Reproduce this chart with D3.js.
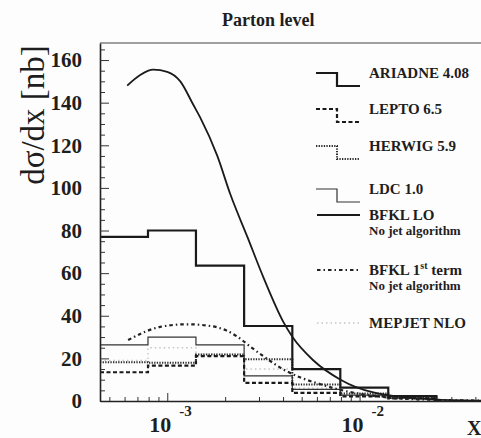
<!DOCTYPE html>
<html>
<head>
<meta charset="utf-8">
<script src="https://cdn.jsdelivr.net/npm/d3@7"></script>
<style>
  body { margin: 0; background: #fdfdfd; }
  svg { display: block; }
  svg text { font-family: 'Liberation Serif', 'Times New Roman', Times, serif; fill: #1e1e1e; }
</style>
</head>
<body>
<script>
// histogram bin edges in x (4 bins per decade)
const binEdges = [4.47e-4, 7.94e-4, 1.41e-3, 2.51e-3, 4.47e-3, 7.94e-3, 1.41e-2, 2.51e-2]
const ariadne = [77, 80, 63.5, 35.2, 15, 6.3, 2.3]
const lepto = [13.5, 16.6, 21.1, 8.5, 3.8, 2.2, 1.2]
const herwig = [18.2, 18, 21.8, 19.6, 7.8, 3.5, 1.6]
const ldc = [26.3, 30, 26.3, 11.8, 5.5, 2.8, 1.3]
const mepjet = [19, 25, 22, 15, 6, 2.5, 1]

// BFKL curves, x and dsigma/dx
const bfklLoX = [6.19e-4, 7.23e-4, 8.46e-4, 1.0e-3, 1.169e-3, 1.366e-3, 1.485e-3, 1.821e-3, 2.128e-3, 2.61e-3, 3.162e-3, 4.02e-3, 4.48e-3, 5.76e-3, 7.96e-3, 1.18e-2, 2.34e-2, 4.4e-2]
const bfklLoY = [148, 153, 155.5, 154.5, 150, 139, 133, 115, 97, 77, 58, 37, 30, 19, 10, 4, 0.8, 0.2]
const bfkl1X = [6.26e-4, 7.68e-4, 9.19e-4, 1.271e-3, 1.675e-3, 2.005e-3, 2.316e-3, 2.705e-3, 3.162e-3, 4.02e-3, 4.93e-3, 6.04e-3, 7.96e-3, 1.287e-2, 2.34e-2, 4.4e-2]
const bfkl1Y = [28.6, 32.5, 34.8, 36, 35.2, 33.3, 30.2, 25.5, 21, 14.8, 11, 8.3, 5.2, 2, 0.6, 0.2]

const yMajor = [0, 20, 40, 60, 80, 100, 120, 140, 160]
const xMajor = [1e-3, 1e-2]
const xMajorExp = ['-3', '-2']

const legendNames = ['ARIADNE 4.08', 'LEPTO 6.5', 'HERWIG 5.9', 'LDC 1.0']

;(function (context) {
  const d3 = context.d3
  const width = 481
  const height = 438
  const left = 100
  const top = 43
  const bottom = 401
  const serif = "'Liberation Serif', 'Times New Roman', Times, serif"

  const x = d3.scaleLog().domain([4.47e-4, 5.0e-2]).range([left, 494])
  const y = d3.scaleLinear().domain([0, 168]).range([bottom, top])

  const svg = d3.select('body')
    .append('svg')
    .attr('width', width)
    .attr('height', height)
    .attr('font-family', serif)

  const styles = {
    ariadne: { stroke: '#1a1a1a', width: 2.2, dash: null },
    lepto: { stroke: '#1a1a1a', width: 2.2, dash: '4,2.5' },
    herwig: { stroke: '#2a2a2a', width: 2, dash: '1.3,1.3' },
    ldc: { stroke: '#333', width: 1.2, dash: null },
    mepjet: { stroke: '#c4c4c4', width: 1.4, dash: '1.5,3' },
    bfklLo: { stroke: '#1a1a1a', width: 1.8, dash: null },
    bfkl1: { stroke: '#222', width: 2.2, dash: '3.5,3,1.5,3' }
  }

  const applyStyle = function (sel, s) {
    sel.attr('fill', 'none')
      .attr('stroke', s.stroke)
      .attr('stroke-width', s.width)
    if (s.dash) sel.attr('stroke-dasharray', s.dash)
    return sel
  }

  // step path built from bin edges and values
  const stepPath = function (values) {
    const edges = binEdges.concat([Math.pow(10, Math.log10(binEdges[binEdges.length - 1]) + 0.25)])
    const pts = []
    values.forEach(function (v, i) {
      pts.push([x(edges[i]), y(v)])
      pts.push([x(edges[i + 1]), y(v)])
    })
    pts.push([x(edges[values.length]), y(0)])
    return d3.line()(pts)
  }

  const plot = svg.append('g')

  const hists = [
    [mepjet, styles.mepjet],
    [ldc, styles.ldc],
    [herwig, styles.herwig],
    [lepto, styles.lepto],
    [ariadne, styles.ariadne]
  ]
  hists.forEach(function (h) {
    applyStyle(plot.append('path').attr('d', stepPath(h[0])), h[1])
  })

  const curve = d3.line()
    .x(function (d) { return x(d[0]) })
    .y(function (d) { return y(d[1]) })
    .curve(d3.curveMonotoneX)

  applyStyle(plot.append('path').attr('d', curve(d3.zip(bfkl1X, bfkl1Y))), styles.bfkl1)
  applyStyle(plot.append('path').attr('d', curve(d3.zip(bfklLoX, bfklLoY))), styles.bfklLo)

  // frame
  svg.append('line')
    .attr('x1', left).attr('x2', width).attr('y1', top).attr('y2', top)
    .attr('stroke', '#444').attr('stroke-width', 1.2)

  // y axis
  const yMinor = d3.range(0, 170, 5).filter(function (v) { return v % 20 !== 0 })
  svg.append('g')
    .attr('transform', `translate(${left},0)`)
    .call(d3.axisLeft(y).tickValues(yMinor).tickSize(-5).tickFormat(''))
    .call(function (g) { g.select('.domain').remove() })
    .selectAll('line').attr('stroke', '#333')

  const yAxis = svg.append('g')
    .attr('transform', `translate(${left},0)`)
    .call(d3.axisLeft(y).tickValues(yMajor).tickSize(-9).tickPadding(18).tickSizeOuter(0))
    .attr('font-family', serif)
  yAxis.select('.domain').attr('stroke', '#222').attr('stroke-width', 1.6)
  yAxis.selectAll('line').attr('stroke', '#333')
  yAxis.selectAll('text')
    .style('font-family', serif)
    .style('font-size', '21px')
    .style('font-weight', 'bold')
    .attr('fill', '#1e1e1e')

  // x axis
  const xMinor = [5e-4, 6e-4, 7e-4, 8e-4, 9e-4, 2e-3, 3e-3, 4e-3, 5e-3, 6e-3, 7e-3, 8e-3, 9e-3, 2e-2, 3e-2, 4e-2]
  svg.append('g')
    .attr('transform', `translate(0,${bottom})`)
    .call(d3.axisBottom(x).tickValues(xMinor).tickSize(-4).tickFormat(''))
    .call(function (g) { g.select('.domain').remove() })
    .selectAll('line').attr('stroke', '#333')

  const xAxis = svg.append('g')
    .attr('transform', `translate(0,${bottom})`)
    .call(d3.axisBottom(x).tickValues(xMajor).tickSize(-8).tickSizeOuter(0).tickFormat(''))
  xAxis.select('.domain').attr('stroke', '#222').attr('stroke-width', 1.6)
  xAxis.selectAll('line').attr('stroke', '#333')

  xMajor.forEach(function (v, i) {
    svg.append('text')
      .attr('x', x(v) + 4)
      .attr('y', 432)
      .attr('text-anchor', 'end')
      .style('font-size', '22px')
      .style('font-weight', 'bold')
      .text('10')
    svg.append('text')
      .attr('x', x(v) + 12)
      .attr('y', 416)
      .style('font-size', '15px')
      .style('font-weight', 'bold')
      .text(xMajorExp[i])
  })

  svg.append('text')
    .attr('x', 467)
    .attr('y', 435)
    .style('font-size', '20px')
    .style('font-weight', 'bold')
    .text('X')

  // title and y label
  svg.append('text')
    .attr('x', 222)
    .attr('y', 26)
    .style('font-size', '18px')
    .style('font-weight', 'bold')
    .text('Parton level')

  svg.append('text')
    .attr('transform', 'translate(44,115) rotate(-90)')
    .attr('text-anchor', 'middle')
    .style('font-size', '33px')
    .text('dσ/dx [nb]')

  // legend
  const legend = svg.append('g')
  const stepKeys = [styles.ariadne, styles.lepto, styles.herwig, styles.ldc]
  const stepRows = [73, 109, 146, 189]
  stepKeys.forEach(function (s, i) {
    const yc = stepRows[i]
    applyStyle(legend.append('path')
      .attr('d', d3.line()([[316, yc], [337, yc], [337, yc + 13], [360, yc + 13]])), s)
    legend.append('text')
      .attr('x', 369)
      .attr('y', yc + 5)
      .style('font-size', '15px')
      .style('font-weight', 'bold')
      .text(legendNames[i])
  })

  const lineRows = [
    { yc: 215, s: styles.bfklLo, label: 'BFKL LO', sup: null, sub: true },
    { yc: 270, s: styles.bfkl1, label: 'BFKL 1', sup: 'st', sub: true },
    { yc: 323, s: styles.mepjet, label: 'MEPJET NLO', sup: null, sub: false }
  ]
  lineRows.forEach(function (r) {
    applyStyle(legend.append('line')
      .attr('x1', 317).attr('x2', 360).attr('y1', r.yc).attr('y2', r.yc), r.s)
    const t = legend.append('text')
      .attr('x', 369)
      .attr('y', r.yc + 5)
      .style('font-size', '15px')
      .style('font-weight', 'bold')
      .text(r.label)
    if (r.sup) {
      t.append('tspan').attr('dy', -6).style('font-size', '10px').text(r.sup)
      t.append('tspan').attr('dy', 6).text(' term')
    }
    if (r.sub) {
      legend.append('text')
        .attr('x', 369)
        .attr('y', r.yc + 20)
        .style('font-size', '13px')
        .style('font-weight', 'bold')
        .text('No jet algorithm')
    }
  })
})(window)
</script>
</body>
</html>
